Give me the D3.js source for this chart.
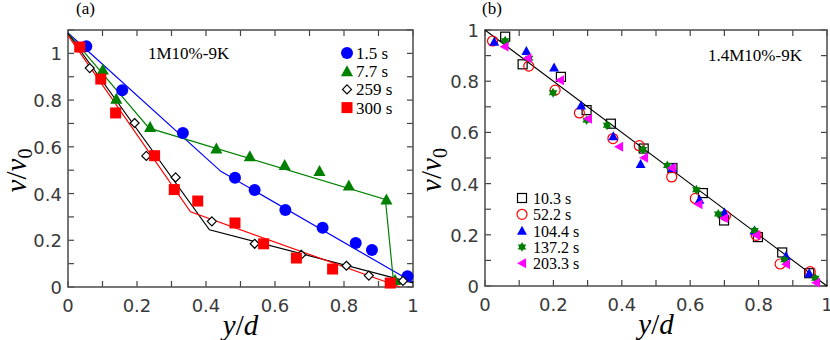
<!DOCTYPE html>
<html>
<head>
<meta charset="utf-8">
<script src="https://cdn.jsdelivr.net/npm/d3@7"></script>
<style>
  body { margin: 0; background: #fff; }
  .tick-label { font-family: "DejaVu Sans", sans-serif; font-size: 18px; fill: #3a3a3a; }
  .serif { font-family: "Liberation Serif", serif; }
</style>
</head>
<body>
<div id="chart"></div>
<script>
// ---- panel (a): 1M10%-9K ----
const aNames = ['1.5 s', '7.7 s', '259 s', '300 s'];
const aX1 = [0.053, 0.157, 0.333, 0.484, 0.541, 0.630, 0.738, 0.834, 0.881, 0.984];
const aY1 = [1.03, 0.842, 0.659, 0.468, 0.415, 0.330, 0.254, 0.188, 0.158, 0.046];
const aX2 = [0.101, 0.140, 0.238, 0.430, 0.527, 0.628, 0.729, 0.814, 0.923, 0.948];
const aY2 = [0.931, 0.805, 0.685, 0.593, 0.559, 0.522, 0.496, 0.434, 0.374, 0.03];
const aX3 = [0.063, 0.193, 0.227, 0.312, 0.417, 0.541, 0.676, 0.807, 0.872, 0.971];
const aY3 = [0.937, 0.702, 0.561, 0.469, 0.281, 0.185, 0.138, 0.091, 0.049, 0.026];
const aX4 = [0.034, 0.095, 0.138, 0.251, 0.308, 0.376, 0.484, 0.567, 0.662, 0.767, 0.934];
const aY4 = [1.027, 0.89, 0.745, 0.562, 0.417, 0.368, 0.274, 0.185, 0.124, 0.077, 0.017];
// fitted piecewise lines
const aFitX1 = [0, 0.443, 1.0];
const aFitY1 = [1.087, 0.495, 0.02];
const aFitX2 = [0, 0.235, 0.92, 0.945];
const aFitY2 = [1.087, 0.68, 0.375, 0.0];
const aFitX3 = [0, 0.41, 1.0];
const aFitY3 = [1.085, 0.245, 0.018];
const aFitX4 = [0, 0.355, 0.963];
const aFitY4 = [1.077, 0.322, 0.0];

// ---- panel (b): 1.4M10%-9K ----
const bNames = ['10.3 s', '52.2 s', '104.4 s', '137.2 s', '203.3 s'];
const bX1 = [0.059, 0.110, 0.222, 0.297, 0.368, 0.464, 0.548, 0.637, 0.699, 0.798, 0.869, 0.948];
const bY1 = [0.974, 0.866, 0.817, 0.687, 0.634, 0.537, 0.461, 0.363, 0.256, 0.191, 0.131, 0.050];
const bX2 = [0.022, 0.128, 0.205, 0.276, 0.374, 0.451, 0.546, 0.615, 0.703, 0.793, 0.863, 0.951];
const bY2 = [0.957, 0.859, 0.765, 0.676, 0.576, 0.548, 0.426, 0.342, 0.274, 0.198, 0.086, 0.056];
const bX3 = [0.027, 0.121, 0.202, 0.281, 0.375, 0.455, 0.548, 0.627, 0.700, 0.788, 0.880, 0.948];
const bY3 = [0.954, 0.918, 0.854, 0.705, 0.585, 0.477, 0.461, 0.337, 0.287, 0.217, 0.117, 0.050];
const bX4 = [0.059, 0.129, 0.199, 0.297, 0.357, 0.462, 0.533, 0.618, 0.682, 0.788, 0.876, 0.966];
const bY4 = [0.958, 0.890, 0.755, 0.648, 0.628, 0.533, 0.471, 0.376, 0.281, 0.217, 0.102, 0.030];
const bX5 = [0.057, 0.124, 0.219, 0.301, 0.392, 0.465, 0.546, 0.624, 0.699, 0.793, 0.880, 0.968];
const bY5 = [0.935, 0.890, 0.804, 0.653, 0.544, 0.501, 0.461, 0.319, 0.265, 0.198, 0.085, 0.013];
const bFitX = [0, 1];
const bFitY = [1, 0];

const zip = (xs, ys) => xs.map((x, i) => ({x, y: ys[i]}));

const svg = d3.select('#chart').append('svg')
    .attr('width', 830)
    .attr('height', 340);

// draws one marker centred on the group origin
function marker(g, type, color, size) {
    const s = size;
    if (type === 'circle') {
        g.append('circle').attr('r', s / 2).attr('fill', color);
    } else if (type === 'ocircle') {
        g.append('circle').attr('r', s / 2).attr('fill', 'none').attr('stroke', color).attr('stroke-width', 1.2);
    } else if (type === 'square') {
        g.append('rect').attr('x', -s / 2).attr('y', -s / 2).attr('width', s).attr('height', s).attr('fill', color);
    } else if (type === 'osquare') {
        g.append('rect').attr('x', -s / 2).attr('y', -s / 2).attr('width', s).attr('height', s)
            .attr('fill', 'none').attr('stroke', color).attr('stroke-width', 1.2);
    } else if (type === 'tri') {
        g.append('path').attr('d', `M0,${-s * 0.55}L${s * 0.55},${s * 0.45}L${-s * 0.55},${s * 0.45}Z`).attr('fill', color);
    } else if (type === 'ltri') {
        g.append('path').attr('d', `M${-s * 0.55},0L${s * 0.45},${-s * 0.55}L${s * 0.45},${s * 0.55}Z`).attr('fill', color);
    } else if (type === 'diamond') {
        g.append('path').attr('d', `M0,${-s / 2}L${s / 2},0L0,${s / 2}L${-s / 2},0Z`)
            .attr('fill', '#fff').attr('stroke', color).attr('stroke-width', 1.2);
    } else if (type === 'star') {
        // six-pointed star: two overlapping triangles
        const r = s * 0.55;
        const tri = a => d3.range(3).map(k => {
            const t = a + k * 2 * Math.PI / 3;
            return [r * Math.sin(t), -r * Math.cos(t)];
        });
        g.append('path').attr('d', 'M' + tri(0).join('L') + 'Z').attr('fill', color);
        g.append('path').attr('d', 'M' + tri(Math.PI).join('L') + 'Z').attr('fill', color);
    }
}

function panel(opts) {
    const {left, top, width, height, yMax, tag, note, noteX, noteY} = opts;
    const x = d3.scaleLinear().domain([0, 1]).range([0, width]);
    const y = d3.scaleLinear().domain([0, yMax]).range([height, 0]);
    const g = svg.append('g').attr('transform', `translate(${left},${top})`);

    // ticks (inward, mirrored on all sides)
    const xt = d3.range(0, 1.0001, 0.1);
    const yt = d3.range(0, yMax + 0.0001, 0.1);
    const tl = 6;
    const tk = g.append('g').attr('stroke', '#444').attr('stroke-width', 1.2);
    xt.forEach(v => {
        tk.append('line').attr('x1', x(v)).attr('x2', x(v)).attr('y1', height).attr('y2', height - tl);
        tk.append('line').attr('x1', x(v)).attr('x2', x(v)).attr('y1', 0).attr('y2', tl);
    });
    yt.forEach(v => {
        tk.append('line').attr('y1', y(v)).attr('y2', y(v)).attr('x1', 0).attr('x2', tl);
        tk.append('line').attr('y1', y(v)).attr('y2', y(v)).attr('x1', width).attr('x2', width - tl);
    });
    g.append('rect').attr('width', width).attr('height', height)
        .attr('fill', 'none').attr('stroke', '#555').attr('stroke-width', 1.6);

    const fmt = v => (Math.abs(v - Math.round(v)) < 1e-6 ? String(Math.round(v)) : d3.format('.1f')(v));
    [0, 0.2, 0.4, 0.6, 0.8, 1].forEach(v => {
        g.append('text').attr('class', 'tick-label').attr('x', x(v)).attr('y', height + 25)
            .attr('text-anchor', 'middle').text(fmt(v));
        g.append('text').attr('class', 'tick-label').attr('x', -6).attr('y', y(v) + 7)
            .attr('text-anchor', 'end').text(fmt(v));
    });

    // axis titles
    const xl = g.append('text').attr('class', 'serif').attr('x', width / 2).attr('y', height + 48)
        .attr('text-anchor', 'middle').attr('font-size', 29);
    xl.append('tspan').attr('font-style', 'italic').text('y');
    xl.append('tspan').text('/');
    xl.append('tspan').attr('font-style', 'italic').text('d');

    const yl = g.append('text').attr('class', 'serif')
        .attr('transform', `translate(${opts.ylabX},${height / 2 + 12}) rotate(-90)`)
        .attr('text-anchor', 'middle').attr('font-size', 29);
    yl.append('tspan').attr('font-style', 'italic').text('v');
    yl.append('tspan').text('/');
    yl.append('tspan').attr('font-style', 'italic').text('v');
    yl.append('tspan').attr('font-size', 20).attr('dy', 6).text('0');

    g.append('text').attr('class', 'serif').attr('x', tag.x).attr('y', -16)
        .attr('font-size', 17).text(tag.t);
    g.append('text').attr('class', 'serif').attr('x', noteX).attr('y', noteY)
        .attr('font-size', 17).text(note);

    return {g, x, y};
}

const line = (x, y) => d3.line().x(d => x(d.x)).y(d => y(d.y));

// ---------- panel (a)
const pa = panel({left: 68, top: 30, width: 345, height: 257, yMax: 1.1,
    tag: {x: 8, t: '(a)'}, note: '1M10%-9K', noteX: 80, noteY: 29, ylabX: -42});
const aSeries = [
    {pts: zip(aX1, aY1), fit: zip(aFitX1, aFitY1), color: '#0000ff', type: 'circle', size: 12},
    {pts: zip(aX2, aY2), fit: zip(aFitX2, aFitY2), color: '#008000', type: 'tri', size: 11},
    {pts: zip(aX3, aY3), fit: zip(aFitX3, aFitY3), color: '#000000', type: 'diamond', size: 9},
    {pts: zip(aX4, aY4), fit: zip(aFitX4, aFitY4), color: '#ff0000', type: 'square', size: 11}
];
aSeries.forEach(s => {
    pa.g.append('path').datum(s.fit).attr('d', line(pa.x, pa.y))
        .attr('fill', 'none').attr('stroke', s.color).attr('stroke-width', 1.2);
});
aSeries.forEach(s => {
    s.pts.forEach(p => {
        marker(pa.g.append('g').attr('transform', `translate(${pa.x(p.x)},${pa.y(p.y)})`), s.type, s.color, s.size);
    });
});
aSeries.forEach((s, i) => {
    const ly = 23 + i * 18.2;
    marker(pa.g.append('g').attr('transform', `translate(279,${ly})`), s.type, s.color, s.size);
    pa.g.append('text').attr('class', 'serif').attr('x', 288).attr('y', ly + 6)
        .attr('font-size', 17).text(aNames[i]);
});

// ---------- panel (b)
const pb = panel({left: 485, top: 30, width: 342, height: 256, yMax: 1,
    tag: {x: -3, t: '(b)'}, note: '1.4M10%-9K', noteX: 223, noteY: 31, ylabX: -44});
pb.g.append('path').datum(zip(bFitX, bFitY)).attr('d', line(pb.x, pb.y))
    .attr('fill', 'none').attr('stroke', '#000').attr('stroke-width', 1.1);
const bSeries = [
    {pts: zip(bX1, bY1), color: '#000000', type: 'osquare', size: 9},
    {pts: zip(bX2, bY2), color: '#ff0000', type: 'ocircle', size: 10},
    {pts: zip(bX3, bY3), color: '#0000ff', type: 'tri', size: 9},
    {pts: zip(bX4, bY4), color: '#008000', type: 'star', size: 9},
    {pts: zip(bX5, bY5), color: '#ff00ff', type: 'ltri', size: 9}
];
bSeries.forEach(s => {
    s.pts.forEach(p => {
        marker(pb.g.append('g').attr('transform', `translate(${pb.x(p.x)},${pb.y(p.y)})`), s.type, s.color, s.size);
    });
});
bSeries.forEach((s, i) => {
    const ly = 168 + i * 16.3;
    marker(pb.g.append('g').attr('transform', `translate(37,${ly})`), s.type, s.color, s.size);
    pb.g.append('text').attr('class', 'serif').attr('x', 48).attr('y', ly + 6)
        .attr('font-size', 16).text(bNames[i]);
});
</script>
</body>
</html>
